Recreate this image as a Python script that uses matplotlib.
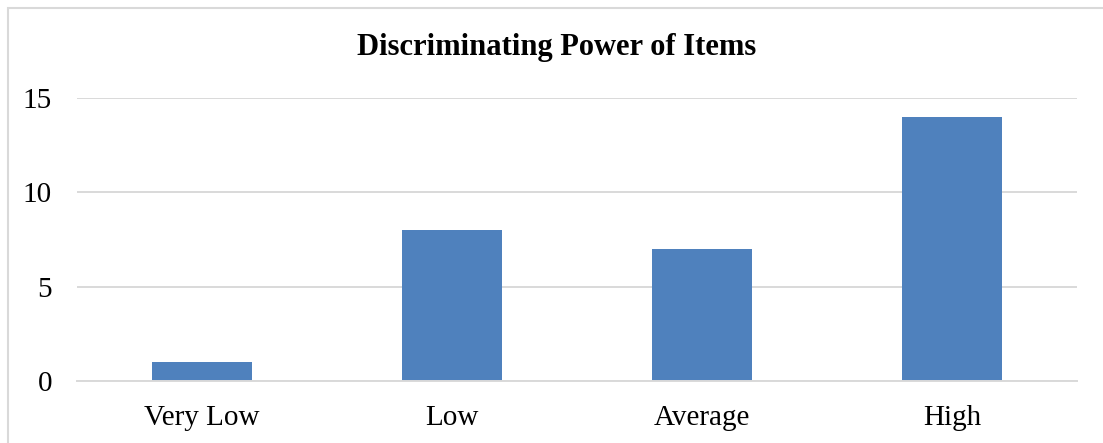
import matplotlib
matplotlib.use("Agg")
import matplotlib.pyplot as plt
from matplotlib.patches import Rectangle

categories = ["Very Low", "Low", "Average", "High"]
counts = [1, 8, 7, 14]
y_ticks = [0, 5, 10, 15]

W, H = 1103, 443
plt.rcParams["font.family"] = ["Liberation Serif", "DejaVu Serif"]

fig = plt.figure(figsize=(W / 100, H / 100), dpi=100)
ax = fig.add_axes([77 / W, 62 / H, 1000 / W, 283 / H])

bar_color = "#4f81bd"
grid_color = "#d9d9d9"

x = list(range(len(categories)))
ax.bar(x, counts, width=0.4, color=bar_color, zorder=3)

ax.set_xlim(-0.5, len(categories) - 0.5)
ax.set_ylim(0, 15)
ax.set_yticks(y_ticks)
ax.set_xticks(x)
ax.set_xticklabels(categories)
ax.yaxis.grid(True, color=grid_color, linewidth=1.4, zorder=0)
ax.set_axisbelow(True)
for side in ["left", "right", "top"]:
    ax.spines[side].set_visible(False)
ax.spines["bottom"].set_color(grid_color)
ax.spines["bottom"].set_linewidth(1.4)
ax.spines["bottom"].set_zorder(4)
ax.tick_params(axis="both", length=0, labelsize=21, colors="#000000")
ax.tick_params(axis="y", pad=18)
ax.tick_params(axis="x", pad=17)

fig.text(557 / W, 1 - 48 / H, "Discriminating Power of Items", ha="center",
         va="center", fontsize=22, fontweight="bold")

# chart frame, open on the right and bottom edges
fig.add_artist(Rectangle((8 / W, -0.1), 2, (H - 8) / H + 0.1,
                         transform=fig.transFigure, fill=False,
                         edgecolor=grid_color, linewidth=1.5))

fig.savefig("out.png", dpi=100)
